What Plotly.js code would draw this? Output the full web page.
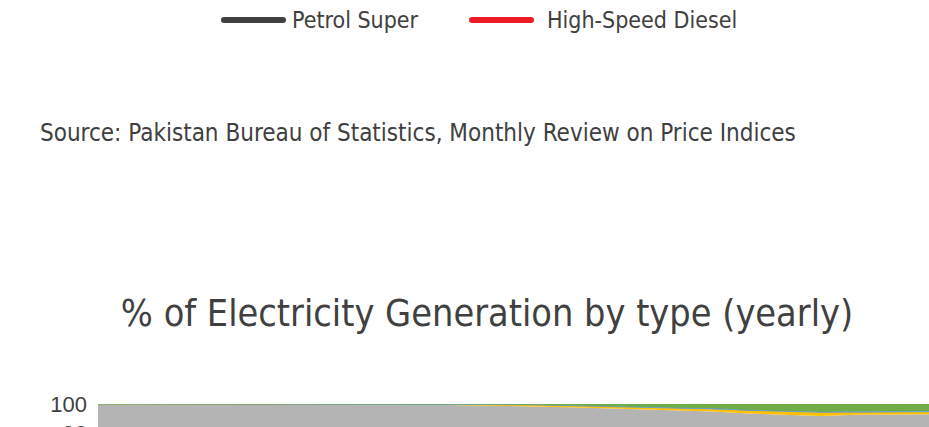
<!DOCTYPE html>
<html>
<head>
<meta charset="utf-8">
<script src="https://cdn.plot.ly/plotly-3.0.1.min.js"></script>
<style>
html,body{margin:0;padding:0;overflow:hidden;background:#fff;}
#chart{width:929px;height:749px;}
</style>
</head>
<body>
<div id="chart"></div>
<script>
// Data (% of yearly electricity generation, top of the stack)
const years = [2000,2001,2002,2003,2004,2005,2006,2007,2008,2009,2010,2011,2012,2013,2014,2015,2016,2017,2018,2019,2020,2021,2022,2023];
const otherShare = [100,100,100,100,100,100,99.8,99.8,99.9,99.9,99.6,99.4,99.2,98.9,98.5,98.1,97.7,97.4,96.7,96.2,95.9,96.3,96.5,96.5];
const solarShare = [0,0,0,0,0,0,0.2,0.2,0.1,0.1,0.3,0.4,0.5,0.6,0.6,0.6,0.6,0.7,0.8,0.9,1.0,0.6,0.5,0.5];
const bagasseShare = [0,0,0,0,0,0,0,0,0,0,0,0,0,0,0.1,0.2,0.3,0.3,0.3,0.3,0.3,0.4,0.4,0.5];
const windShare = [0,0,0,0,0,0,0,0,0,0,0.1,0.2,0.3,0.5,0.8,1.1,1.4,1.6,2.2,2.6,2.8,2.7,2.6,2.5];
const yTicks = [0,10,20,30,40,50,60,70,80,90,100];

const legendNames = ["Petrol Super","High-Speed Diesel"];
const legendColors = ["#404040","#ed1c24"];
const chartTitle = "% of Electricity Generation by type (yearly)";
const sourceText = "Source: Pakistan Bureau of Statistics, Monthly Review on Price Indices";

// Layout geometry (pixels)
const W = 929, H = 749, L = 98, R = 0, T = 404, B = 55;
const pw = W - L - R, ph = H - T - B;
const px = x => (x - L) / pw;
const py = y => (H - B - y) / ph;

const textFont = "'DejaVu Sans Condensed', 'DejaVu Sans', sans-serif";
const txtColor = "#404040";

const traces = [
  {x: years, y: otherShare, name: "Other sources", stackgroup: "g", mode: "lines",
   line: {width: 0, color: "#b4b4b4"}, fillcolor: "#b4b4b4"},
  {x: years, y: solarShare, name: "Solar", stackgroup: "g", mode: "lines",
   line: {width: 1, color: "#ffc000"}, fillcolor: "#ffc000"},
  {x: years, y: bagasseShare, name: "Bagasse", stackgroup: "g", mode: "lines",
   line: {width: 0.8, color: "#5b9bd5"}, fillcolor: "#5b9bd5"},
  {x: years, y: windShare, name: "Wind", stackgroup: "g", mode: "lines",
   line: {width: 0.8, color: "#70ad47"}, fillcolor: "#70ad47"}
];

// Legend of the fuel-price chart drawn above (lines + labels)
const legLines = [[224, 283], [472, 531]];
const legTextX = [290, 545];
const legY = 20;
const shapes = [];
const annotations = [];
legLines.forEach((seg, i) => {
  shapes.push({type: "line", xref: "paper", yref: "paper",
    x0: px(seg[0]), x1: px(seg[1]), y0: py(legY), y1: py(legY),
    line: {color: legendColors[i], width: 6}});
  seg.forEach(ex => {
    shapes.push({type: "circle", xref: "paper", yref: "paper",
      xsizemode: "pixel", ysizemode: "pixel", xanchor: px(ex), yanchor: py(legY),
      x0: -3, x1: 3, y0: -3, y1: 3, fillcolor: legendColors[i], line: {width: 0}});
  });
  annotations.push({xref: "paper", yref: "paper", x: px(legTextX[i]), y: py(legY),
    xanchor: "left", yanchor: "middle", showarrow: false, text: legendNames[i],
    font: {family: textFont, size: 23, color: txtColor}});
});
annotations.push({xref: "paper", yref: "paper", x: px(38), y: py(133),
  xanchor: "left", yanchor: "middle", showarrow: false, text: sourceText,
  font: {family: textFont, size: 24, color: txtColor}});

const layout = {
  width: W, height: H,
  margin: {l: L, r: R, t: T, b: B},
  paper_bgcolor: "#ffffff", plot_bgcolor: "#ffffff",
  showlegend: false,
  title: {text: chartTitle, xref: "container", yref: "container",
    x: 487 / W, y: 1 - 313 / H, xanchor: "center", yanchor: "middle",
    font: {family: textFont, size: 37.5, color: txtColor}},
  xaxis: {range: [years[0], years[years.length - 1]], showgrid: false, zeroline: false,
    showline: false, showticklabels: false, ticks: ""},
  yaxis: {range: [0, 100], tickvals: yTicks, showgrid: true, gridcolor: "#d9d9d9",
    gridwidth: 1, zeroline: false, showline: false, ticks: "", ticklabelstandoff: 10,
    tickfont: {family: "'Liberation Sans', Arial, sans-serif", size: 22, color: "#404040"}},
  shapes: shapes,
  annotations: annotations
};

Plotly.newPlot("chart", traces, layout, {displayModeBar: false, staticPlot: true});
</script>
</body>
</html>
